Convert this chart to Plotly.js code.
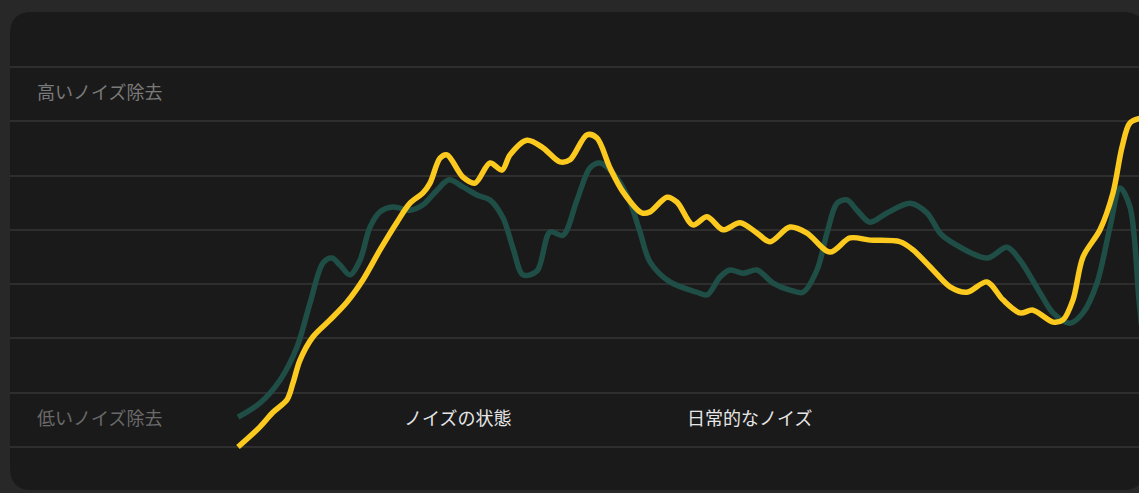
<!DOCTYPE html>
<html>
<head>
<meta charset="utf-8">
<script src="https://cdn.plot.ly/plotly-3.0.1.min.js"></script>
<style>
html,body{margin:0;padding:0;background:#282828;}
#chart{width:1139px;height:493px;}
</style>
</head>
<body>
<div id="chart"></div>
<script>
// Time positions (arbitrary units) and noise-removal levels (0 = low, 7 = top grid line)
const yellowT = [0, 2.2, 3.5, 4.9, 5.5, 6.2, 7.5, 9.2, 10.9, 12.5, 14.2, 15.9, 17.2, 18.5, 19.2, 20.2, 20.9, 22.5, 23.7, 25.2, 26.4, 27.2, 28.9, 30.5, 32.2, 33.2, 34.9, 35.9, 37.2, 38.5, 40.4, 41.2, 42.9, 43.9, 45.5, 46.9, 48.5, 50.2, 51.9, 53.2, 55.2, 56.9, 59.2, 61.2, 63.2, 66.2, 67.5, 69.5, 71.2, 72.9, 74.9, 76.5, 78.2, 79.5, 81.5, 82.5, 83.5, 84.5, 86.2, 87.5, 88.4, 89.2, 90.4];
const yellowV = [0, 0.37, 0.64, 0.87, 1.18, 1.60, 2.03, 2.34, 2.67, 3.08, 3.63, 4.14, 4.49, 4.68, 4.86, 5.32, 5.38, 4.97, 4.86, 5.23, 5.10, 5.38, 5.65, 5.51, 5.25, 5.29, 5.75, 5.69, 5.14, 4.70, 4.31, 4.33, 4.60, 4.51, 4.09, 4.24, 4.00, 4.13, 3.94, 3.78, 4.05, 3.94, 3.59, 3.85, 3.81, 3.78, 3.63, 3.26, 2.95, 2.85, 3.04, 2.71, 2.47, 2.52, 2.30, 2.34, 2.71, 3.50, 4.00, 4.68, 5.52, 5.97, 6.06];

const greenT = [0, 2.2, 4.2, 5.9, 7.2, 8.5, 9.4, 10.2, 11.2, 12.2, 13.2, 14.2, 15.5, 17.2, 18.5, 19.9, 21.1, 22.5, 23.9, 25.2, 26.5, 27.5, 28.5, 29.9, 31.2, 32.5, 33.9, 35.2, 36.2, 37.9, 39.2, 40.2, 41.2, 43.2, 45.9, 46.9, 48.2, 49.2, 50.5, 51.9, 53.5, 55.2, 56.5, 57.9, 58.9, 59.9, 60.9, 61.9, 63.2, 64.9, 67.2, 68.9, 70.2, 71.2, 74.9, 76.9, 78.2, 80.2, 81.5, 83.2, 84.5, 85.9, 87.2, 88.2, 89.2, 90.1, 90.7];
const greenV = [0.55, 0.81, 1.23, 1.84, 2.65, 3.39, 3.48, 3.35, 3.17, 3.44, 4.05, 4.33, 4.42, 4.36, 4.46, 4.73, 4.92, 4.79, 4.64, 4.55, 4.22, 3.66, 3.17, 3.24, 3.96, 3.90, 4.55, 5.14, 5.23, 4.95, 4.51, 3.96, 3.41, 3.04, 2.85, 2.80, 3.13, 3.26, 3.20, 3.26, 3.02, 2.89, 2.85, 3.26, 3.94, 4.49, 4.55, 4.36, 4.14, 4.31, 4.49, 4.31, 3.94, 3.79, 3.48, 3.68, 3.44, 2.84, 2.47, 2.28, 2.47, 3.02, 4.05, 4.77, 4.42, 2.71, 1.60];

const gridLevels = [0, 1, 2, 3, 4, 5, 6, 7];
const labelHigh = '高いノイズ除去';
const labelLow = '低いノイズ除去';
const seriesLabelA = 'ノイズの状態';
const seriesLabelB = '日常的なノイズ';

const W = 1139, H = 493;
const px = v => v / W;
const py = v => 1 - v / H;

const traces = [
  {
    x: greenT, y: greenV, type: 'scatter', mode: 'lines', name: seriesLabelB,
    line: {color: '#1f4e46', width: 5.5, shape: 'spline', smoothing: 0.9},
    hoverinfo: 'skip'
  },
  {
    x: yellowT, y: yellowV, type: 'scatter', mode: 'lines', name: seriesLabelA,
    line: {color: '#fcca1e', width: 5.5, shape: 'spline', smoothing: 0.9},
    hoverinfo: 'skip'
  }
];

// rounded panel path in paper coordinates
const L = 10, T = 12, R = 1145, B = 490, r = 22;
const panelPath =
  `M ${px(L + r)},${py(T)} L ${px(R - r)},${py(T)} Q ${px(R)},${py(T)} ${px(R)},${py(T + r)} ` +
  `L ${px(R)},${py(B - r)} Q ${px(R)},${py(B)} ${px(R - r)},${py(B)} ` +
  `L ${px(L + r)},${py(B)} Q ${px(L)},${py(B)} ${px(L)},${py(B - r)} ` +
  `L ${px(L)},${py(T + r)} Q ${px(L)},${py(T)} ${px(L + r)},${py(T)} Z`;

const font = '"Noto Sans CJK JP", "Noto Sans", sans-serif';

const layout = {
  width: W, height: H,
  margin: {l: 0, r: 0, t: 0, b: 0, pad: 0},
  paper_bgcolor: '#282828',
  plot_bgcolor: 'rgba(0,0,0,0)',
  showlegend: false,
  xaxis: {
    domain: [10 / W, 1],
    range: [-22.8, 90.1],
    showgrid: false, zeroline: false, showticklabels: false, ticks: '', showline: false,
    fixedrange: true
  },
  yaxis: {
    range: [-0.847, 8.232],
    tickvals: gridLevels,
    showgrid: true, gridcolor: '#2e2e2e', gridwidth: 2,
    zeroline: false, showticklabels: false, ticks: '', showline: false,
    fixedrange: true
  },
  shapes: [
    {type: 'path', path: panelPath, xref: 'paper', yref: 'paper',
     fillcolor: '#1a1a1a', line: {width: 0}, layer: 'below'}
  ],
  annotations: [
    {text: labelHigh, xref: 'paper', yref: 'paper', x: px(35), y: py(91),
     xanchor: 'left', yanchor: 'middle', showarrow: false,
     font: {family: font, size: 18, color: '#7a7a7a'}},
    {text: labelLow, xref: 'paper', yref: 'paper', x: px(35), y: py(417),
     xanchor: 'left', yanchor: 'middle', showarrow: false,
     font: {family: font, size: 18, color: '#6a6a6a'}},
    {text: seriesLabelA, xref: 'paper', yref: 'paper', x: px(402), y: py(417),
     xanchor: 'left', yanchor: 'middle', showarrow: false,
     font: {family: font, size: 18, color: '#e6e6e6'}},
    {text: seriesLabelB, xref: 'paper', yref: 'paper', x: px(685), y: py(417),
     xanchor: 'left', yanchor: 'middle', showarrow: false,
     font: {family: font, size: 18, color: '#e6e6e6'}}
  ]
};

Plotly.newPlot('chart', traces, layout, {staticPlot: true, displayModeBar: false});
</script>
</body>
</html>
